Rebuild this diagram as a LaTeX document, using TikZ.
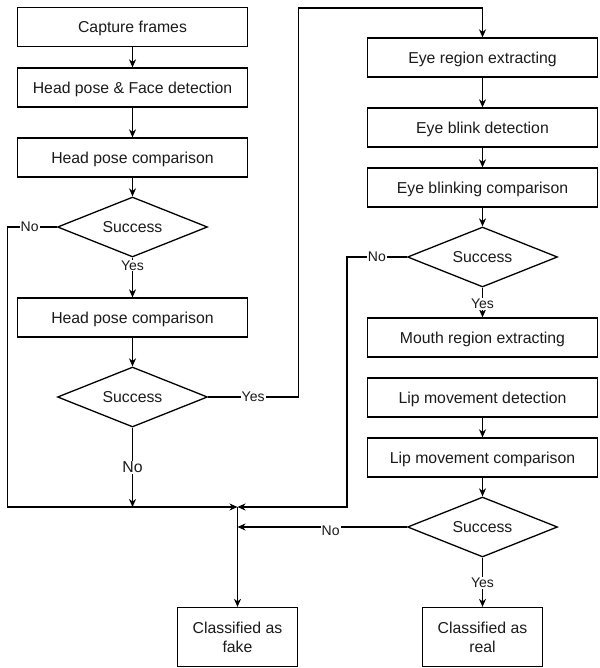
\documentclass[tikz,border=0pt]{standalone}
\usepackage{fontspec}
\setmainfont{Liberation Sans}
\usetikzlibrary{arrows.meta,shapes.geometric}
\definecolor{txt}{HTML}{1A1A1A}
\begin{document}
\begin{tikzpicture}[x=1pt,y=-1pt,
  box/.style={draw, line width=1.3pt, minimum width=230pt, minimum height=39pt, inner sep=0pt, text height=11.3pt, text depth=0pt, text=txt, font=\fontsize{15.8}{19}\selectfont},
  endbox/.style={draw, line width=1.3pt, minimum width=120pt, minimum height=59pt, inner sep=0pt, align=center, text=txt, font=\fontsize{15.8}{19}\selectfont},
  dec/.style={draw, diamond, aspect=2.5, line width=1.3pt, minimum width=150pt, minimum height=60pt, inner sep=0pt, text height=11.3pt, text depth=0pt, text=txt, font=\fontsize{15.8}{19}\selectfont},
  conn/.style={draw, line width=1.3pt},
  arr/.style={conn, -{Stealth[length=8pt,width=7pt,inset=2.5pt]}},
  lbl/.style={fill=white, inner sep=1pt, text=txt, font=\fontsize{14}{16}\selectfont},
  biglbl/.style={fill=white, inner sep=1pt, text=txt, font=\fontsize{15.8}{19}\selectfont}]
\useasboundingbox (0,0) rectangle (599,668);

% left column
\node[box] (cap)  at (132.5,27)    {Capture frames};
\node[box] (hpfd) at (132.5,87.5)  {Head pose \& Face detection};
\node[box] (hpc1) at (132.5,157.5) {Head pose comparison};
\node[dec] (d1)   at (132.5,227)   {Success};
\node[box] (hpc2) at (132.5,317.5) {Head pose comparison};
\node[dec] (d2)   at (132.5,397)   {Success};

% right column
\node[box] (eye)   at (482.5,57.5)  {Eye region extracting};
\node[box] (blink) at (482.5,127.5) {Eye blink detection};
\node[box] (bcomp) at (482.5,187.5) {Eye blinking comparison};
\node[dec] (d3)    at (482.5,257)   {Success};
\node[box] (mouth) at (482.5,337.5) {Mouth region extracting};
\node[box] (lipd)  at (482.5,397.5) {Lip movement detection};
\node[box] (lipc)  at (482.5,457.5) {Lip movement comparison};
\node[dec] (d4)    at (482.5,527)   {Success};

% results
\node[endbox] (real) at (482.5,637) {Classified as\\real};
\node[endbox] (fake) at (237.5,637) {Classified as\\fake};

\coordinate (j) at (237.5,507);

% left flow
\draw[arr] (cap) -- (hpfd);
\draw[arr] (hpfd) -- (hpc1);
\draw[arr] (hpc1) -- (d1);
\draw[arr] (d1) -- node[lbl,pos=0.2] {Yes} (hpc2);
\draw[arr] (hpc2) -- (d2);
\draw[arr] (d2.south) -- node[biglbl,pos=0.5] {No} (d2.south |- j);
\draw[arr] (d1.west) -- node[lbl,pos=0.55] {No} ++(-49.5,0) |- (j);
\draw[arr] (d2.east) -- node[lbl,pos=0.5] {Yes} ++(90,0) -- ++(0,-389) -| (eye.north);

% right flow
\draw[arr] (eye) -- (blink);
\draw[arr] (blink) -- (bcomp);
\draw[arr] (bcomp) -- (d3);
\draw[arr] (d3) -- node[lbl,pos=0.55] {Yes} (mouth);
\draw[arr] (d3.west) -- node[lbl,pos=0.5] {No} ++(-60,0) |- (j);
\draw[arr] (lipd) -- (lipc);
\draw[arr] (lipc) -- (d4);
\draw[arr] (d4) -- node[lbl,pos=0.52] {Yes} (real);
\draw[arr] (d4.west) -- node[lbl,pos=0.45,yshift=-4pt] {No} (d4.west -| j);

% to fake
\draw[arr] (j) -- (fake.north);
\end{tikzpicture}
\end{document}
